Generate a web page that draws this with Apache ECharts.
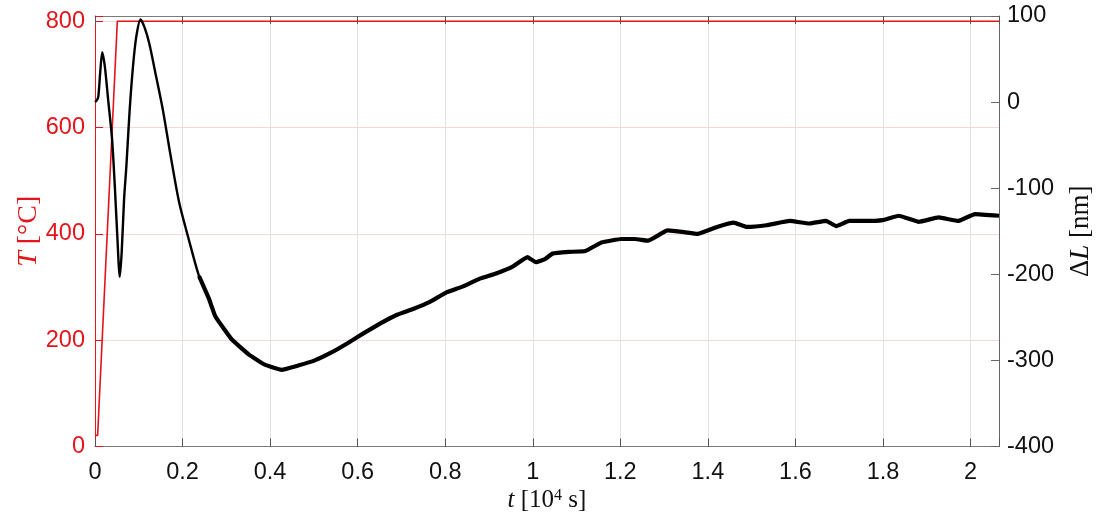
<!DOCTYPE html>
<html>
<head>
<meta charset="utf-8">
<script src="https://cdn.jsdelivr.net/npm/echarts@6/dist/echarts.min.js"></script>
<style>
  html, body { margin: 0; padding: 0; background: #fff; }
  #chart { width: 1102px; height: 518px; }
</style>
</head>
<body>
<div id="chart"></div>
<script>
// ---- data (t in 10^4 s) ----
const xTicks = [0, 0.2, 0.4, 0.6, 0.8, 1, 1.2, 1.4, 1.6, 1.8, 2];
const tempTickLabels = [0, 200, 400, 600, 800];
const dlTickLabels = [-400, -300, -200, -100, 0, 100];

// furnace temperature T [°C]
const tempTime  = [0, 0.006, 0.051, 2.065];
const tempValue = [21, 21, 800, 800];

// length change ΔL [nm], early (smooth) part
const dlEarlyTime  = [0, 0.004, 0.0075, 0.012, 0.0165, 0.0226, 0.030, 0.039, 0.0452, 0.0505, 0.0566,
                      0.061, 0.0664, 0.0717, 0.0792, 0.0867, 0.0943, 0.104, 0.113, 0.124, 0.1395,
                      0.155, 0.173, 0.192, 0.215, 0.2376, 0.260, 0.275];
const dlEarlyValue = [0, 2, 6, 35, 58, 41, 3, -43, -97, -151, -203,
                      -174, -113, -74, -9, 41, 76, 96, 87, 68, 30,
                      -9, -63, -116, -161, -202, -228, -249];

// length change ΔL [nm], late (noisy) part
const dlLateTime  = [0.2376, 0.260, 0.275, 0.313, 0.351, 0.388, 0.426, 0.464, 0.502, 0.539, 0.577, 0.615,
                     0.652, 0.690, 0.728, 0.765, 0.803, 0.841, 0.879, 0.916, 0.954, 0.988, 1.007,
                     1.029, 1.045, 1.082, 1.12, 1.157, 1.203, 1.233, 1.263, 1.308, 1.346, 1.376,
                     1.421, 1.459, 1.489, 1.534, 1.587, 1.632, 1.670, 1.693, 1.723, 1.761, 1.799,
                     1.836, 1.882, 1.927, 1.972, 2.01, 2.065];
const dlLateValue = [-202, -228, -249, -276, -293, -305, -311, -306, -300, -291, -280, -268,
                     -257, -247, -240, -232, -221, -214, -205, -199, -191, -180, -186,
                     -182, -176, -174, -173, -163, -159, -159, -161, -149, -151, -153,
                     -145, -140, -145, -143, -138, -141, -138, -144, -138, -138, -137,
                     -132, -139, -134, -138, -130, -132];

const zip = (a, b) => a.map((v, i) => [v, b[i]]);

const RED = '#e3141b';
const LABEL_FONT = 'Liberation Sans';
const NAME_FONT = 'Liberation Serif';

const chart = echarts.init(document.getElementById('chart'), null, { renderer: 'canvas' });

const isTick = (v, list) => list.some(t => Math.abs(t - v) < 1e-6);

chart.setOption({
  animation: false,
  backgroundColor: '#ffffff',
  grid: { left: 95, right: 94, top: 16, bottom: 69, containLabel: false },
  xAxis: [
    {
      type: 'value', position: 'bottom', min: 0, max: 2.065, interval: 0.2,
      axisLine: { show: true, onZero: false, lineStyle: { color: '#7a7a7a', width: 1 } },
      axisTick: { show: true, inside: true, length: 8, lineStyle: { color: '#555' } },
      axisLabel: {
        color: '#111', fontFamily: LABEL_FONT, fontSize: 23.5, margin: 14,
        formatter: v => isTick(v, xTicks) ? String(Math.round(v * 10) / 10) : ''
      },
      splitLine: { show: true, lineStyle: { color: '#e2e2e2', width: 1 } },
      name: '{i|t} [10{s|4} s]',
      nameLocation: 'middle', nameGap: 41, nameMoveOverlap: false,
      nameTextStyle: {
        color: '#111', fontFamily: NAME_FONT, fontSize: 25,
        rich: {
          i: { fontFamily: NAME_FONT, fontSize: 25, fontStyle: 'italic', color: '#111' },
          s: { fontFamily: NAME_FONT, fontSize: 16, color: '#111', verticalAlign: 'top', lineHeight: 26 }
        }
      }
    },
    {
      type: 'value', position: 'top', min: 0, max: 2.065, interval: 0.2,
      axisLine: { show: true, onZero: false, lineStyle: { color: '#7a7a7a', width: 1 } },
      axisTick: { show: true, inside: true, length: 8, lineStyle: { color: '#555' } },
      axisLabel: { show: false },
      splitLine: { show: false }
    }
  ],
  yAxis: [
    {
      type: 'value', position: 'left', min: 0, max: 810, interval: 200,
      axisLine: { show: true, onZero: false, lineStyle: { color: RED, width: 1 } },
      axisTick: { show: true, inside: true, length: 8, lineStyle: { color: RED } },
      axisLabel: {
        color: RED, fontFamily: LABEL_FONT, fontSize: 23.5, margin: 10,
        formatter: v => isTick(v, tempTickLabels) ? String(v) : ''
      },
      splitLine: { show: true, lineStyle: { color: '#f6d6d6', width: 1 } },
      name: '{i|T} [°C]',
      nameLocation: 'middle', nameGap: 52, nameMoveOverlap: false,
      nameTextStyle: {
        color: RED, fontFamily: NAME_FONT, fontSize: 28,
        rich: {
          i: { fontFamily: NAME_FONT, fontSize: 28, fontStyle: 'italic', color: RED }
        }
      }
    },
    {
      type: 'value', position: 'right', min: -400, max: 100, interval: 100,
      axisLine: { show: true, onZero: false, lineStyle: { color: '#666', width: 1 } },
      axisTick: { show: true, inside: true, length: 8, lineStyle: { color: '#666' } },
      axisLabel: {
        color: '#111', fontFamily: LABEL_FONT, fontSize: 23.5, margin: 8,
        formatter: v => isTick(v, dlTickLabels) ? String(v) : ''
      },
      splitLine: { show: false },
      name: 'Δ{i|L} [nm]',
      nameLocation: 'middle', nameGap: 68, nameMoveOverlap: false,
      nameTextStyle: {
        color: '#111', fontFamily: NAME_FONT, fontSize: 27,
        rich: {
          i: { fontFamily: NAME_FONT, fontSize: 27, fontStyle: 'italic', color: '#111' }
        }
      }
    }
  ],
  series: [
    {
      name: 'T', type: 'line', xAxisIndex: 0, yAxisIndex: 0,
      data: zip(tempTime, tempValue),
      showSymbol: false, symbol: 'none', clip: false,
      lineStyle: { color: RED, width: 1.6 },
      z: 3
    },
    {
      name: 'dL early', type: 'line', xAxisIndex: 0, yAxisIndex: 1,
      data: zip(dlEarlyTime, dlEarlyValue),
      showSymbol: false, symbol: 'none', smooth: 0.25, clip: false,
      lineStyle: { color: '#000', width: 2.4 },
      z: 4
    },
    {
      name: 'dL late', type: 'line', xAxisIndex: 0, yAxisIndex: 1,
      data: zip(dlLateTime, dlLateValue),
      showSymbol: false, symbol: 'none', smooth: 0.1,
      lineStyle: { color: '#000', width: 4.2 },
      z: 4
    }
  ]
});
</script>
</body>
</html>
